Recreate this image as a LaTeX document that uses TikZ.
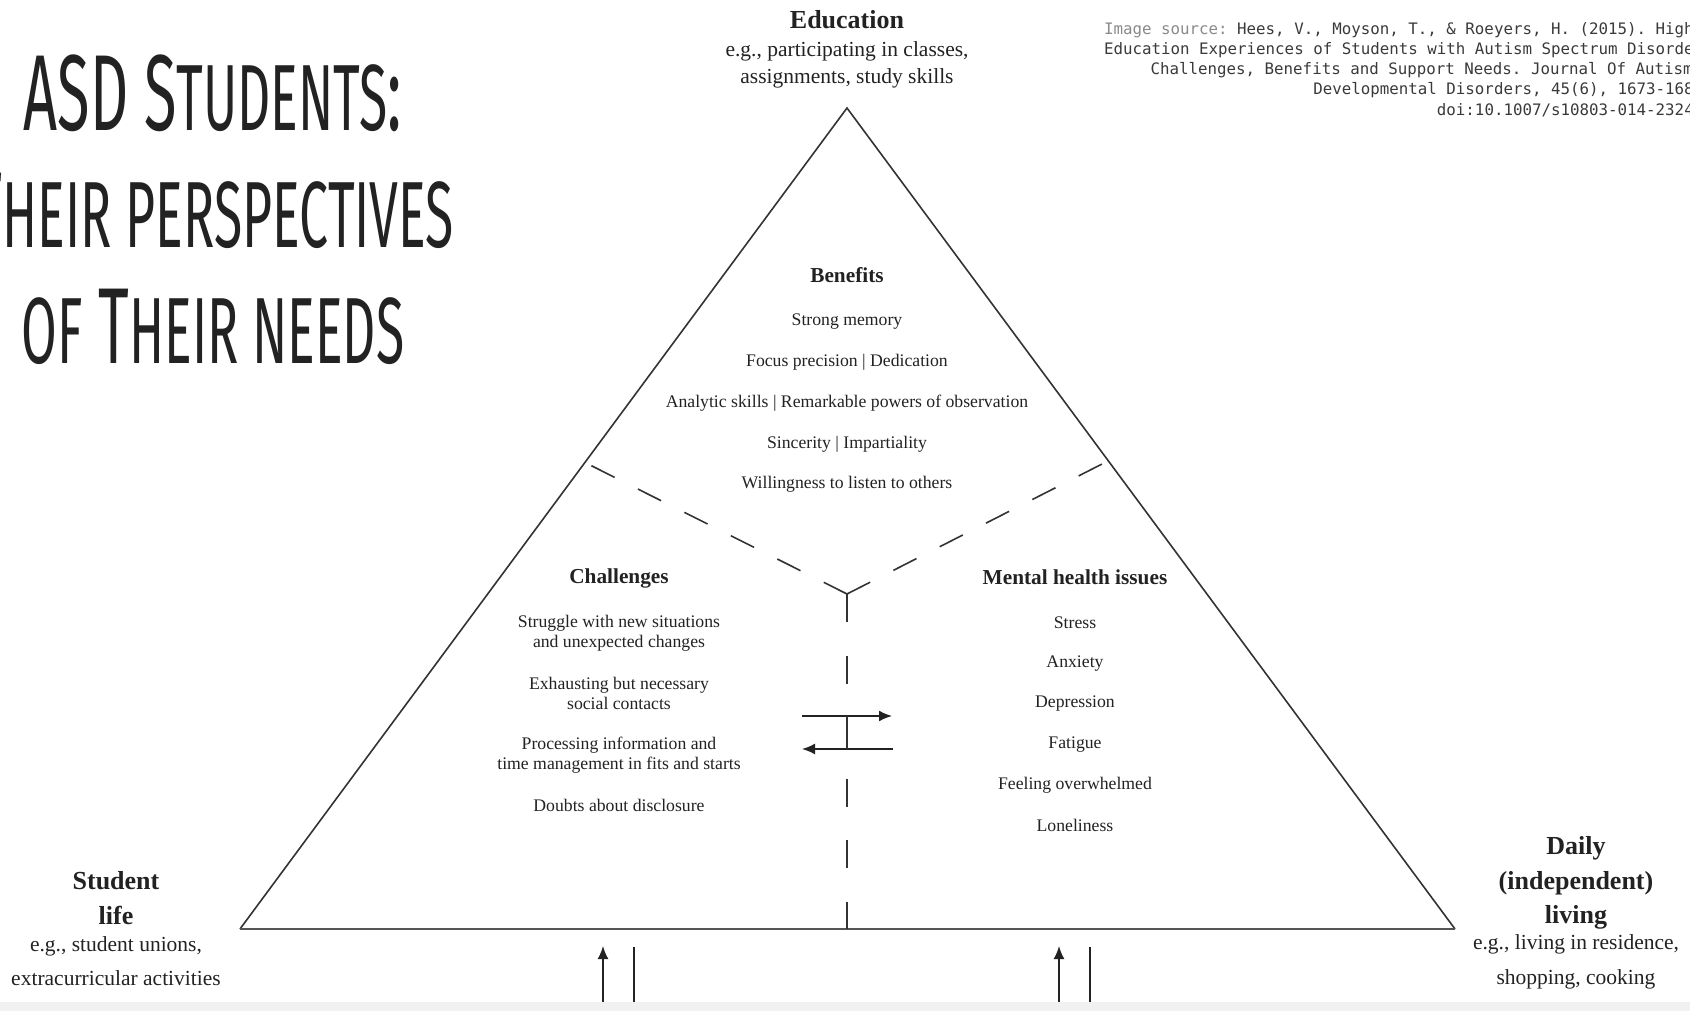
\documentclass[tikz,border=0pt]{standalone}
\usepackage{fontspec}
\setmainfont{Liberation Serif}
\setmonofont{DejaVu Sans Mono}
\newfontfamily\titlefont[FakeStretch=0.55]{Fira Sans}
\usetikzlibrary{arrows.meta}
\definecolor{ink}{HTML}{222222}
\definecolor{linegray}{HTML}{333333}
\definecolor{basegray}{HTML}{555555}
\definecolor{refgray}{HTML}{8A8A8A}
\definecolor{reftext}{HTML}{3A3A3A}
\definecolor{stripgray}{HTML}{F1F1F1}
\newcommand\smallcapsof[1]{{\fontsize{94}{94}\selectfont\MakeUppercase{#1}}}
\tikzset{titletext/.style = {font=\titlefont\fontsize{108}{108}\selectfont, text=ink, anchor=base, inner sep=0pt}}
\tikzset{heading/.style = {font=\bfseries\fontsize{26}{#1}\selectfont, align=center, text=ink, inner sep=0pt},
         heading/.default = 34.5}
\tikzset{egtext/.style = {font=\fontsize{21.5}{#1}\selectfont, align=center, text=ink, inner sep=0pt},
         egtext/.default = 27}
\tikzset{subhead/.style = {font=\bfseries\fontsize{21.3}{24}\selectfont, text=ink, inner sep=0pt}}
\tikzset{entry/.style = {font=\fontsize{17.7}{20}\selectfont, align=center, text=ink, inner sep=0pt}}
\tikzset{outline/.style = {draw=linegray, line width=1.6pt}}
\tikzset{divider/.style = {draw=linegray, line width=1.6pt, dash pattern=on 26pt off 26pt}}
\tikzset{flow/.style = {draw=ink, line width=1.8pt, -{Latex[length=13pt, width=11pt]}}}

\begin{document}
\begin{tikzpicture}[x=1pt, y=-1pt]
      \useasboundingbox (0,0) rectangle (1690,1011);
      \node[titletext] (title1) at (213,131) {ASD S\smallcapsof{tudents}:};
      \node[titletext] (title2) at (213,248) {T\smallcapsof{heir perspectives}};
      \node[titletext] (title3) at (213,363) {\smallcapsof{of} T\smallcapsof{heir needs}};
      \begin{scope}
        \clip (0,0) rectangle (1690,1011);
        \node[anchor=north east, align=right, inner sep=0pt, text=reftext,
              font=\ttfamily\fontsize{15.8}{20.2}\selectfont] (source) at (1713,22)
              {\textcolor{refgray}{Image source:} Hees, V., Moyson, T., \& Roeyers, H. (2015). Higher\\
               Education Experiences of Students with Autism Spectrum Disorder:\\
               Challenges, Benefits and Support Needs. Journal Of Autism And\kern-18pt\\
               Developmental Disorders, 45(6), 1673-1688.\\
               doi:10.1007/s10803-014-2324-2};
      \end{scope}
      \coordinate (apex) at (847,108);
      \coordinate (baseL) at (240,929);
      \coordinate (baseR) at (1455,929);
      \coordinate (hub) at (847,594);
      \coordinate (armL) at (590,465);
      \coordinate (armR) at (1104,463);
      \coordinate (foot) at (847,929);
      \draw[outline] (baseL) -- (apex) -- (baseR);
      \draw[outline, draw=basegray, line width=2.4pt] (baseL) -- (baseR);
      \draw[divider] (hub) -- (armL);
      \draw[divider] (hub) -- (armR);
      \draw[divider, dash pattern=on 28pt off 33.5pt] (hub) -- (foot);
      \coordinate (swapA) at (802,716);
      \coordinate (swapB) at (892,716);
      \coordinate (swapC) at (893,749);
      \coordinate (swapD) at (802,749);
      \draw[flow] (swapA) -- (swapB);
      \draw[flow] (swapC) -- (swapD);
      \draw[outline] (847,716) coordinate (barT) -- (847,749) coordinate (barB);
      \coordinate (inL) at (603,1006);
      \coordinate (inLtop) at (603,946);
      \coordinate (stemL) at (634,1006);
      \coordinate (stemLtop) at (634,947);
      \coordinate (inR) at (1059,1006);
      \coordinate (inRtop) at (1059,946);
      \coordinate (stemR) at (1090,1006);
      \coordinate (stemRtop) at (1090,947);
      \draw[flow] (inL) -- (inLtop);
      \draw[outline, draw=ink, line width=1.8pt] (stemL) -- (stemLtop);
      \draw[flow] (inR) -- (inRtop);
      \draw[outline, draw=ink, line width=1.8pt] (stemR) -- (stemRtop);
      \fill[stripgray] (0,1002) rectangle (1690,1011);
      \node[heading] (edu) at (847,20) {Education};
      \node[egtext] (edu-eg) at (847,64.5) {e.g., participating in classes,\\assignments, study skills};
      \node[subhead] (benefits) at (847,275) {Benefits};
      \foreach \txt [count=\i] in {Strong memory, Focus precision | Dedication,
          Analytic skills | Remarkable powers of observation, Sincerity | Impartiality,
          Willingness to listen to others}
        \node[entry] (benefit-\i) at ({847},{321.5+40.8*(\i-1)}) {\txt};
      \node[subhead] (challenges) at (619,578) {Challenges};
      \foreach \txt/\ypos [count=\i] in {{Struggle with new situations\\and unexpected changes}/633.5,
          {Exhausting but necessary\\social contacts}/693.5,
          {Processing information and\\time management in fits and starts}/755,
          {Doubts about disclosure}/805}
        \node[entry] (challenge-\i) at (619,\ypos) {\txt};
      \node[subhead] (mental) at (1075,577) {Mental health issues};
      \foreach \txt [count=\i] in {Stress, Anxiety, Depression, Fatigue, Feeling overwhelmed, Loneliness}
        \node[entry] (issue-\i) at ({1075},{623+40.5*(\i-1)}) {\txt};
      \node[heading] (student) at (116,898) {Student\\life};
      \node[egtext=34.6] (student-eg) at (116,961) {e.g., student unions,\\extracurricular activities};
      \node[heading] (daily) at (1576,883) {Daily\\(independent)\\living};
      \node[egtext=34.6] (daily-eg) at (1576,962) {e.g., living in residence,\\shopping, cooking};
    \end{tikzpicture}
\end{document}
